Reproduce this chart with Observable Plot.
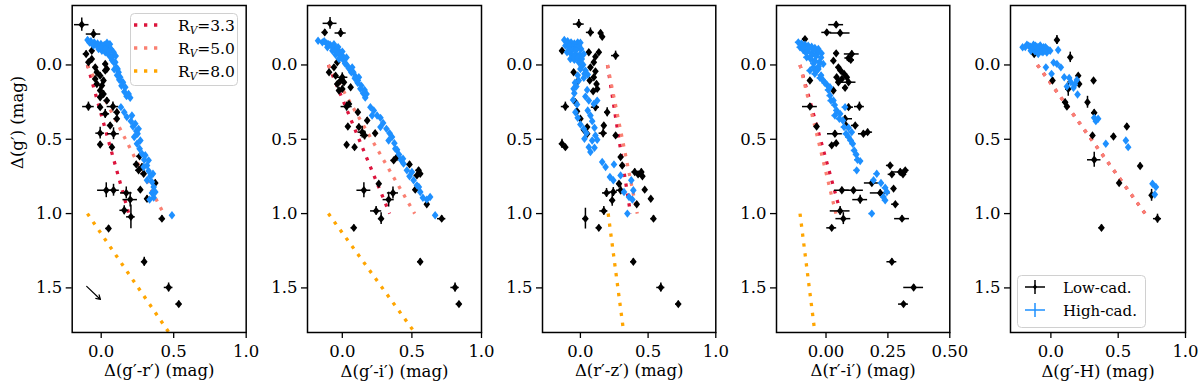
<!DOCTYPE html>
<html><head><meta charset="utf-8">
<script src="https://cdn.jsdelivr.net/npm/d3@7"></script>
<script src="https://cdn.jsdelivr.net/npm/@observablehq/plot@0.6"></script>
<style>
html,body{margin:0;padding:0;background:#fff;}
#wrap{position:relative;width:1200px;height:390px;overflow:hidden;font-family:"DejaVu Serif",serif;}
#wrap > div.panel{position:absolute;top:0;}
#wrap > svg.legend{position:absolute;left:0;top:0;pointer-events:none;}
</style></head><body><div id="wrap"></div>
<script>
// ---------- data (x, y = Δg', xerr, yerr) ----------
const lowGR = [[-0.134,-0.271,0.05,0.045],[-0.053,-0.208,0.05,0.03],[-0.104,-0.074,0.02,0.02],[-0.065,-0.04,0.015,0.015],[-0.088,-0.018,0.015,0.015],[-0.041,0.016,0.015,0.015],[-0.03,0.049,0.015,0.015],[-0.007,0.072,0.015,0.02],[0.016,0.105,0.015,0.02],[0.005,0.139,0.015,0.02],[-0.03,0.128,0.015,0.015],[-0.007,0.172,0.015,0.02],[0.028,0.038,0.015,0.015],[0.016,0.195,0.015,0.02],[0.039,0.24,0.02,0.02],[-0.007,0.217,0.015,0.02],[-0.041,0.094,0.015,0.015],[-0.065,-0.096,0.015,0.015],[0.039,0.027,0.015,0.015],[0.028,-0.007,0.015,0.015],[-0.088,0.28,0.04,0.03],[-0.007,0.284,0.015,0.02],[0.028,0.329,0.03,0.03],[0.081,0.28,0.04,0.03],[0.108,0.362,0.02,0.02],[0.062,0.407,0.02,0.02],[-0.007,0.459,0.03,0.04],[-0.007,0.535,0.015,0.02],[0.085,0.463,0.04,0.04],[0.074,0.553,0.015,0.02],[0.265,0.615,0.02,0.02],[0.242,0.669,0.02,0.02],[0.258,0.709,0.02,0.02],[0.293,0.732,0.02,0.02],[0.281,0.687,0.02,0.02],[0.373,0.794,0.02,0.02],[0.27,0.839,0.015,0.015],[0.316,0.9,0.015,0.02],[0.035,0.843,0.06,0.05],[0.085,0.843,0.04,0.04],[0.173,0.861,0.04,0.04],[0.2,0.906,0.05,0.05],[0.159,0.978,0.03,0.03],[0.205,1.022,0.03,0.08],[0.419,1.034,0.02,0.02],[0.051,1.1,0.02,0.02],[0.297,1.324,0.02,0.03],[0.465,1.497,0.03,0.03],[0.535,1.609,0.02,0.02],[0.108,0.318,0.02,0.02]];
const highGR = [[-0.094,-0.168],[-0.071,-0.159],[-0.048,-0.152],[-0.025,-0.145],[-0.002,-0.141],[0.021,-0.134],[0.044,-0.123],[0.067,-0.107],[-0.053,-0.13],[-0.018,-0.107],[0.005,-0.096],[0.028,-0.085],[0.051,-0.069],[0.081,-0.063],[0.097,-0.018],[0.074,-0.034],[0.104,0.016],[0.12,0.049],[0.131,0.083],[0.15,0.116],[0.166,0.15],[0.189,0.195],[0.2,0.221],[0.136,0.284],[0.159,0.318],[0.177,0.351],[0.205,0.378],[0.219,0.414],[0.242,0.445],[0.228,0.485],[0.247,0.53],[0.265,0.564],[0.281,0.597],[0.297,0.638],[0.316,0.676],[0.327,0.714],[0.339,0.749],[0.35,0.787],[0.362,0.821],[0.35,0.861],[0.362,0.893],[0.334,0.906],[0.488,1.011],[0.212,0.34],[0.235,0.396],[0.258,0.43],[0.27,0.508],[0.251,0.463],[0.304,0.608],[0.327,0.642],[0.293,0.687],[0.357,0.732],[0.316,0.776],[0.373,0.855],[0.113,0.027],[0.085,-0.085],[-0.08,-0.15],[-0.06,-0.14],[-0.03,-0.13],[0.0,-0.12],[0.03,-0.11],[0.055,-0.09],[0.07,-0.05],[0.085,-0.02],[0.09,0.03],[0.11,0.07],[0.125,0.1],[0.14,0.14],[0.16,0.18],[0.175,0.21],[0.06,-0.14],[0.04,-0.15],[0.1,-0.06]];

const lowGI = [[-0.088,-0.28,0.05,0.04],[-0.012,-0.215,0.04,0.03],[-0.126,-0.219,0.02,0.02],[-0.095,0.049,0.015,0.015],[-0.048,0.072,0.015,0.015],[-0.012,0.105,0.015,0.02],[-0.036,0.128,0.015,0.015],[0.012,0.116,0.015,0.015],[0,0.161,0.015,0.02],[-0.024,0.172,0.015,0.015],[0.06,0.15,0.015,0.015],[-0.06,0.016,0.015,0.015],[-0.036,-0.018,0.015,0.015],[0,0.083,0.04,0.03],[0.031,0.28,0.04,0.03],[0.048,0.262,0.015,0.015],[0.04,0.414,0.015,0.015],[0.119,0.418,0.015,0.02],[0.143,0.452,0.03,0.04],[0.16,0.474,0.03,0.03],[0.179,0.374,0.015,0.02],[0.112,0.318,0.015,0.02],[0.031,0.537,0.015,0.015],[0.088,0.553,0.015,0.015],[0.236,0.459,0.015,0.015],[0.369,0.642,0.02,0.02],[0.393,0.62,0.015,0.015],[0.483,0.669,0.02,0.02],[0.548,0.709,0.02,0.02],[0.56,0.732,0.02,0.02],[0.536,0.743,0.02,0.02],[0.524,0.839,0.015,0.015],[0.262,0.799,0.015,0.015],[0.607,0.937,0.015,0.015],[0.155,0.843,0.05,0.05],[0.364,0.861,0.04,0.04],[0.333,0.906,0.04,0.05],[0.243,0.982,0.04,0.03],[0.279,1.034,0.02,0.04],[0.714,1.034,0.03,0.02],[0.083,1.096,0.02,0.02],[0.56,1.324,0.02,0.02],[0.81,1.497,0.03,0.03],[0.838,1.609,0.02,0.02]];
const highGI = [[-0.174,-0.163],[-0.143,-0.152],[-0.112,-0.145],[-0.088,-0.136],[-0.064,-0.123],[-0.04,-0.107],[-0.017,-0.085],[0,-0.063],[-0.107,-0.119],[-0.071,-0.096],[-0.048,-0.069],[-0.024,-0.04],[0.012,-0.029],[0.031,-0.002],[0.055,0.027],[0.079,0.049],[0.095,0.078],[0.112,0.105],[0.136,0.139],[0.16,0.168],[0.174,0.195],[0.202,0.284],[0.226,0.306],[0.25,0.34],[0.274,0.356],[0.293,0.391],[0.317,0.43],[0.34,0.459],[0.357,0.485],[0.374,0.526],[0.393,0.57],[0.407,0.602],[0.421,0.638],[0.44,0.664],[0.464,0.709],[0.483,0.749],[0.512,0.776],[0.536,0.81],[0.56,0.855],[0.579,0.893],[0.607,0.906],[0.631,0.888],[0.667,1.011],[0.214,0.34],[0.274,0.418],[0.333,0.508],[0.381,0.564],[0.436,0.631],[0.5,0.72],[0.55,0.821],[0.071,0.016],[0.119,0.083],[-0.13,-0.16],[-0.1,-0.14],[-0.075,-0.125],[-0.05,-0.1],[-0.03,-0.08],[-0.01,-0.05],[0.02,-0.01],[0.045,0.02],[0.065,0.05],[0.09,0.09],[0.11,0.12],[0.13,0.16],[0.15,0.19],[0.165,0.22],[-0.06,-0.14],[-0.03,-0.12],[0.0,-0.09],[0.03,-0.05]];

const lowRZ = [[-0.012,-0.275,0.04,0.03],[0.074,-0.219,0.03,0.03],[0.149,-0.215,0.015,0.015],[0.161,-0.19,0.015,0.015],[0.26,-0.063,0.03,0.03],[-0.136,-0.096,0.015,0.015],[0.062,-0.085,0.015,0.015],[0.136,-0.085,0.015,0.015],[0.111,-0.056,0.015,0.015],[0.099,-0.018,0.015,0.015],[0.074,0.016,0.015,0.015],[0.111,0.043,0.015,0.015],[0.099,0.083,0.015,0.015],[0.119,0.128,0.015,0.015],[0.124,0.161,0.015,0.015],[0.094,0.177,0.015,0.015],[0.069,0.105,0.015,0.015],[-0.05,0.049,0.015,0.015],[-0.02,0.11,0.015,0.015],[-0.111,0.28,0.03,0.03],[0.111,0.284,0.03,0.03],[0.198,0.318,0.02,0.03],[-0.037,0.251,0.015,0.015],[-0.025,0.311,0.015,0.015],[0,0.362,0.015,0.015],[0.05,0.418,0.015,0.015],[0.025,0.436,0.015,0.015],[0.173,0.407,0.015,0.015],[0.168,0.459,0.03,0.03],[0.05,0.463,0.015,0.015],[0.26,0.474,0.015,0.015],[-0.136,0.53,0.02,0.03],[-0.111,0.553,0.015,0.015],[0.297,0.62,0.015,0.015],[0.309,0.676,0.015,0.015],[0.401,0.72,0.02,0.02],[0.426,0.736,0.02,0.02],[0.45,0.72,0.02,0.02],[0.458,0.749,0.02,0.02],[0.475,0.839,0.015,0.015],[0.52,0.9,0.015,0.015],[0.416,0.937,0.015,0.015],[0.285,0.799,0.015,0.015],[0.193,0.861,0.03,0.03],[0.243,0.855,0.03,0.03],[0.297,0.843,0.03,0.03],[0.235,0.911,0.02,0.04],[0.173,0.982,0.03,0.03],[0.037,1.034,0.02,0.07],[0.54,1.034,0.02,0.02],[0.136,1.096,0.02,0.02],[0.391,1.324,0.02,0.02],[0.594,1.497,0.03,0.03],[0.723,1.609,0.02,0.02]];
const highRZ = [[-0.119,-0.168],[-0.094,-0.159],[-0.069,-0.152],[-0.045,-0.145],[-0.02,-0.152],[-0.111,-0.13],[-0.087,-0.119],[-0.054,-0.119],[-0.025,-0.119],[0.005,-0.107],[-0.099,-0.085],[-0.069,-0.074],[-0.037,-0.074],[-0.005,-0.069],[0.025,-0.074],[-0.074,-0.04],[-0.045,-0.034],[-0.012,-0.018],[0.02,-0.002],[0,0.027],[0.037,0.038],[0.054,0.065],[0.025,0.087],[-0.012,0.105],[-0.03,0.145],[-0.045,0.19],[-0.054,0.235],[-0.025,0.266],[-0.037,0.318],[-0.02,0.356],[0,0.4],[0.025,0.43],[0.045,0.459],[0.03,0.497],[0.062,0.553],[0.074,0.586],[0.054,0.306],[0.074,0.34],[0.062,0.24],[0.037,0.213],[0.05,0.168],[0.087,0.378],[0.104,0.423],[0.111,0.474],[0.087,0.508],[0.124,0.503],[0.104,0.557],[0.161,0.653],[0.186,0.687],[0.248,0.669],[0.218,0.754],[0.243,0.776],[0.297,0.743],[0.376,0.776],[0.322,0.855],[0.359,0.888],[0.384,0.906],[0.347,1.0],[0.391,0.843],[0.124,0.24],[0.099,0.262],[-0.1,-0.15],[-0.08,-0.13],[-0.06,-0.1],[-0.03,-0.1],[-0.01,-0.13],[-0.05,-0.05],[-0.02,-0.05],[0.01,-0.04],[-0.08,-0.1],[0.0,-0.15],[0.01,0.01],[0.03,0.06],[-0.02,0.07],[-0.04,0.12],[-0.05,0.16]];

const lowRI = [[0.041,-0.271,0.03,0.02],[0.003,-0.219,0.02,0.02],[0.057,-0.215,0.04,0.02],[-0.085,-0.174,0.01,0.01],[0.041,-0.078,0.01,0.01],[0.104,-0.074,0.03,0.02],[0.091,-0.047,0.015,0.01],[0.1,-0.034,0.015,0.01],[0.03,-0.029,0.01,0.01],[0.05,0.016,0.01,0.01],[0.059,0.038,0.01,0.01],[0.043,0.083,0.01,0.01],[0.064,0.094,0.01,0.01],[0.084,0.083,0.01,0.01],[0.073,0.06,0.01,0.01],[0.05,0.116,0.01,0.01],[0.091,0.116,0.03,0.02],[0.077,0.154,0.01,0.01],[-0.065,0.105,0.01,0.01],[0.03,0.172,0.01,0.01],[-0.065,0.28,0.03,0.02],[0.091,0.284,0.02,0.02],[0.135,0.28,0.02,0.03],[0.077,0.362,0.03,0.02],[0.081,0.407,0.01,0.01],[0.118,0.407,0.015,0.01],[-0.038,0.414,0.01,0.01],[0.036,0.463,0.03,0.02],[0.151,0.463,0.02,0.02],[0.168,0.452,0.02,0.02],[0.023,0.541,0.01,0.01],[0.041,0.526,0.01,0.01],[0.259,0.676,0.015,0.01],[0.266,0.736,0.015,0.01],[0.3,0.72,0.03,0.02],[0.311,0.736,0.015,0.01],[0.32,0.709,0.015,0.01],[0.185,0.794,0.03,0.02],[0.273,0.832,0.01,0.01],[0.28,0.937,0.015,0.01],[0.064,0.843,0.03,0.02],[0.111,0.843,0.04,0.02],[0.138,0.906,0.03,0.03],[0.219,0.861,0.04,0.02],[0.057,0.982,0.04,0.03],[0.07,1.034,0.03,0.04],[0.307,1.034,0.03,0.02],[0.023,1.096,0.02,0.01],[0.266,1.324,0.02,0.02],[0.354,1.497,0.04,0.02],[0.313,1.609,0.02,0.01]];
const highRI = [[-0.112,-0.152],[-0.099,-0.145],[-0.085,-0.136],[-0.072,-0.13],[-0.058,-0.123],[-0.045,-0.114],[-0.031,-0.107],[-0.105,-0.119],[-0.092,-0.101],[-0.076,-0.092],[-0.058,-0.078],[-0.038,-0.074],[-0.018,-0.078],[-0.078,-0.051],[-0.062,-0.04],[-0.045,-0.029],[-0.027,-0.018],[-0.011,-0.007],[-0.051,0.016],[-0.031,0.027],[-0.065,0.038],[-0.045,0.06],[-0.024,0.087],[-0.011,0.105],[0.003,0.132],[0.009,0.168],[0.016,0.206],[0.03,0.239],[0.043,0.306],[0.057,0.329],[0.036,0.34],[0.054,0.362],[0.068,0.374],[0.073,0.418],[0.081,0.463],[0.091,0.485],[0.1,0.508],[0.091,0.423],[0.108,0.53],[0.114,0.575],[0.122,0.602],[0.127,0.638],[0.124,0.709],[0.138,0.647],[0.205,0.732],[0.192,0.776],[0.222,0.794],[0.239,0.826],[0.246,0.855],[0.232,0.888],[0.239,0.911],[0.185,1.0],[0.077,0.284],[0.016,0.15],[0.104,0.452],[-0.1,-0.14],[-0.09,-0.12],[-0.07,-0.11],[-0.05,-0.1],[-0.03,-0.09],[-0.06,-0.06],[-0.04,-0.06],[-0.02,-0.05],[-0.08,-0.08],[-0.05,-0.01],[-0.03,0.01],[-0.04,0.04],[-0.02,0.07],[-0.005,0.12],[0.02,0.24],[0.035,0.27]];

const lowGH = [[0.045,-0.168,0.01,0.03],[0.144,-0.051,0.01,0.035],[-0.124,-0.074,0.01,0.01],[0.012,0.105,0.01,0.02],[0.317,0.105,0.01,0.01],[0.203,0.072,0.01,0.01],[0.21,0.128,0.01,0.01],[0.129,0.161,0.02,0.05],[0.106,0.251,0.02,0.02],[0.119,0.28,0.01,0.01],[0.272,0.251,0.01,0.04],[0.322,0.322,0.02,0.02],[0.564,0.414,0.01,0.02],[0.309,0.474,0.01,0.01],[0.465,0.481,0.02,0.02],[0.322,0.638,0.05,0.05],[0.663,0.68,0.01,0.02],[0.507,0.794,0.01,0.01],[0.748,0.877,0.01,0.04],[0.792,1.034,0.03,0.03],[0.376,1.096,0.02,0.02]];
const highGH = [[-0.21,-0.119],[-0.178,-0.136],[-0.153,-0.123],[-0.129,-0.136],[-0.104,-0.123],[-0.079,-0.132],[-0.054,-0.119],[-0.03,-0.107],[-0.005,-0.096],[-0.149,-0.096],[-0.119,-0.092],[-0.089,-0.096],[-0.059,-0.085],[-0.03,-0.083],[-0.094,-0.074],[0.054,-0.101],[0.045,-0.007],[0.02,-0.016],[0.074,0.016],[-0.037,0.016],[0.005,0.06],[0.099,0.083],[0.136,0.087],[0.149,0.116],[0.119,0.145],[0.168,0.154],[0.198,0.199],[0.193,0.101],[0.178,0.132],[0.322,0.356],[0.351,0.362],[0.334,0.378],[0.408,0.53],[0.557,0.508],[0.574,0.553],[0.755,0.799],[0.78,0.821],[0.772,0.872],[-0.19,-0.12],[-0.165,-0.13],[-0.14,-0.115],[-0.115,-0.13],[-0.09,-0.12],[-0.065,-0.11],[-0.04,-0.12],[-0.015,-0.1],[-0.07,-0.09],[-0.045,-0.095]];
const highErr = 0.012;

// extinction vectors per panel: [x, y] endpoints
const rv33 = {gr: [[-0.095,0],[0.19,1.0]], gi: [[-0.1,0],[0.34,1.0]], rz: [[0.2,0],[0.37,1.0]], ri: [[-0.105,0],[0.06,1.0]], gh: [[-0.1,0],[0.7,1.0]]};
const rv50 = {gr: [[-0.095,0],[0.43,1.0]], gi: [[-0.1,0],[0.52,1.0]], rz: [[0.2,0],[0.42,1.0]], ri: [[-0.105,0],[0.04,1.0]], gh: [[-0.1,0],[0.7,1.0]]};
const rv80 = {gr: [[-0.095,1.0],[0.467,1.8]], gi: [[-0.1,1.0],[0.52,1.8]], rz: [[0.205,1.0],[0.32,1.8]], ri: [[-0.105,1.0],[-0.045,1.8]]};
const reddeningArrow = [{x1: -0.1, y1: 1.49, x2: -0.005, y2: 1.578}];

const xLabels = {gr: "Δ(g′-r′) (mag)", gi: "Δ(g′-i′) (mag)", rz: "Δ(r′-z′) (mag)", ri: "Δ(r′-i′) (mag)", gh: "Δ(g′-H) (mag)"};
const xDomains = {gr: [-0.2, 1.0], gi: [-0.25, 1.0], rz: [-0.28, 1.0], ri: [-0.2, 0.5], gh: [-0.3, 1.0]};
const xTicks = {gr: [0, 0.5, 1.0], gi: [0, 0.5, 1.0], rz: [0, 0.5, 1.0], ri: [0, 0.25, 0.5], gh: [0, 0.5, 1.0]};
const yTicks = [0, 0.5, 1.0, 1.5];
const yLabel = "Δ(g′) (mag)";
const rvLabels = ["3.3", "5.0", "8.0"];
const cadLabels = ["Low-cad.", "High-cad."];

// ---------- styles ----------
const C33 = "#dc143c", C50 = "#fa8072", C80 = "#ffa500", BLUE = "#1e90ff";
const FS = 16.5;
const R = 3.5;
const dash = "3.3,6.7";
const diamond = {draw(ctx, size) {
  const r = Math.sqrt(size / Math.PI);
  ctx.moveTo(0, -r * 1.2); ctx.lineTo(r * 0.95, 0); ctx.lineTo(0, r * 1.2); ctx.lineTo(-r * 0.95, 0); ctx.closePath();
}};

const layout = [
  {key: "gr", frameLeft: 71.7, frameW: 174, low: lowGR, high: highGR, fmt: ".1f"},
  {key: "gi", frameLeft: 306.7, frameW: 174, low: lowGI, high: highGI, fmt: ".1f"},
  {key: "rz", frameLeft: 541.7, frameW: 173.3, low: lowRZ, high: highRZ, fmt: ".1f"},
  {key: "ri", frameLeft: 776, frameW: 173.3, low: lowRI, high: highRI, fmt: ".2f"},
  {key: "gh", frameLeft: 1010, frameW: 175, low: lowGH, high: highGH, fmt: ".1f"}
];

const wrap = document.getElementById("wrap");

layout.forEach((p, i) => {
  const ml = i === 0 ? p.frameLeft : 60;
  const left = p.frameLeft - ml;
  const mr = 8;
  const marks = [];
  const lineOpts = (c) => ({x: d => d[0], y: d => d[1], stroke: c, strokeWidth: 3.3, strokeDasharray: dash, strokeLinecap: "butt", clip: true});
  marks.push(Plot.line(rv33[p.key], lineOpts(C33)));
  marks.push(Plot.line(rv50[p.key], lineOpts(C50)));
  if (rv80[p.key]) marks.push(Plot.line(rv80[p.key], lineOpts(C80)));
  // low-cadence
  marks.push(Plot.ruleY(p.low, {y: d => d[1], x1: d => d[0] - d[2], x2: d => d[0] + d[2], stroke: "black", strokeWidth: 1.5}));
  marks.push(Plot.ruleX(p.low, {x: d => d[0], y1: d => d[1] - d[3], y2: d => d[1] + d[3], stroke: "black", strokeWidth: 1.5}));
  marks.push(Plot.dot(p.low, {x: d => d[0], y: d => d[1], symbol: diamond, r: R, fill: "black", stroke: "none"}));
  // high-cadence
  marks.push(Plot.ruleY(p.high, {y: d => d[1], x1: d => d[0] - highErr, x2: d => d[0] + highErr, stroke: BLUE, strokeWidth: 1.5}));
  marks.push(Plot.ruleX(p.high, {x: d => d[0], y1: d => d[1] - highErr, y2: d => d[1] + highErr, stroke: BLUE, strokeWidth: 1.5}));
  marks.push(Plot.dot(p.high, {x: d => d[0], y: d => d[1], symbol: diamond, r: R, fill: BLUE, stroke: "none"}));
  if (i === 0) {
    marks.push(Plot.arrow(reddeningArrow, {x1: "x1", y1: "y1", x2: "x2", y2: "y2", stroke: "black", strokeWidth: 1.2, headLength: 6}));
    marks.push(Plot.text([yLabel], {text: d => d, frameAnchor: "left", dx: -54, rotate: -90, fontSize: FS}));
  }
  marks.push(Plot.frame({stroke: "black", strokeWidth: 1.5}));
  marks.push(Plot.axisX({ticks: xTicks[p.key], tickFormat: d3.format(p.fmt), tickSize: 6, tickPadding: 7, label: null, fontSize: FS, strokeWidth: 1.3}));
  marks.push(Plot.axisY({ticks: yTicks, tickFormat: d3.format(".1f"), tickSize: 6, tickPadding: 4, label: null, fontSize: FS, strokeWidth: 1.3}));
  marks.push(Plot.text([xLabels[p.key]], {text: d => d, frameAnchor: "bottom", dy: 44, fontSize: FS}));

  const chart = Plot.plot({
    width: ml + p.frameW + mr,
    height: 390,
    marginLeft: ml, marginRight: mr, marginTop: 5, marginBottom: 58,
    x: {domain: xDomains[p.key]},
    y: {domain: [1.8, -0.4]},
    style: {fontFamily: "DejaVu Serif", fontSize: FS + "px", background: "transparent", overflow: "visible", color: "black"},
    marks
  });
  const div = document.createElement("div");
  div.className = "panel";
  div.style.left = left + "px";
  div.appendChild(chart);
  wrap.appendChild(div);
});

// ---------- legends ----------
const svg = d3.select(wrap).append("svg").attr("class", "legend").attr("width", 1200).attr("height", 390)
  .style("font-family", "DejaVu Serif");
// legend 1 (R_V)
const l1 = svg.append("g");
l1.append("rect").attr("x", 130.5).attr("y", 13.5).attr("width", 107).attr("height", 72).attr("rx", 4)
  .attr("fill", "white").attr("fill-opacity", 0.8).attr("stroke", "#d0d0d0");
[C33, C50, C80].forEach((c, k) => {
  const y = 25 + k * 23;
  l1.append("line").attr("x1", 134).attr("x2", 160).attr("y1", y).attr("y2", y)
    .attr("stroke", c).attr("stroke-width", 3.3).attr("stroke-dasharray", dash);
  const t = l1.append("text").attr("x", 178).attr("y", y + 5.5).attr("font-size", 15.5);
  t.append("tspan").text("R");
  t.append("tspan").attr("font-size", 10.5).attr("font-style", "italic").attr("dy", 3).text("V");
  t.append("tspan").attr("dy", -3).text("=" + rvLabels[k]);
});
// legend 2 (cadence)
const l2 = svg.append("g");
l2.append("rect").attr("x", 1017.5).attr("y", 275.5).attr("width", 128).attr("height", 52).attr("rx", 4)
  .attr("fill", "white").attr("fill-opacity", 0.8).attr("stroke", "#d0d0d0");
["black", BLUE].forEach((c, k) => {
  const y = 287 + k * 23;
  l2.append("line").attr("x1", 1025).attr("x2", 1045).attr("y1", y).attr("y2", y).attr("stroke", c).attr("stroke-width", 1.5);
  l2.append("line").attr("x1", 1035).attr("x2", 1035).attr("y1", y - 7).attr("y2", y + 7).attr("stroke", c).attr("stroke-width", 1.5);
  if (k === 0) l2.append("path").attr("d", d3.symbol().type(diamond).size(Math.PI * 2.2 * 2.2)()).attr("transform", `translate(1035,${y})`).attr("fill", c);
  l2.append("text").attr("x", 1063).attr("y", y + 5.5).attr("font-size", 15).text(cadLabels[k]);
});
</script></body></html>
